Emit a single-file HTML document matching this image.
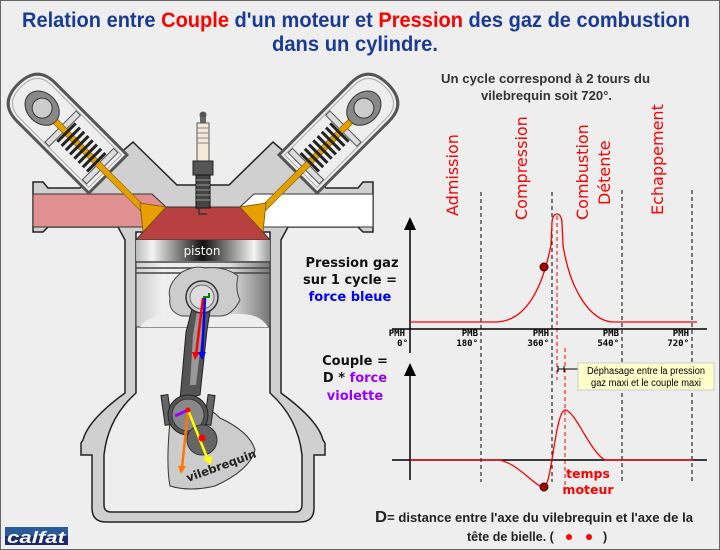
<!DOCTYPE html>
<html><head><meta charset="utf-8"><style>
html,body{margin:0;padding:0;background:#eee}
svg{display:block}
</style></head><body>
<svg width="720" height="550" viewBox="0 0 720 550" xmlns="http://www.w3.org/2000/svg">
<defs>
<linearGradient id="pt" x1="0" x2="1" y1="0" y2="0">
<stop offset="0" stop-color="#bbb"/><stop offset="0.12" stop-color="#f4f4f4"/><stop offset="0.5" stop-color="#111"/><stop offset="0.88" stop-color="#f4f4f4"/><stop offset="1" stop-color="#999"/></linearGradient>
<linearGradient id="pb" x1="0" x2="1" y1="0" y2="0">
<stop offset="0" stop-color="#ccc"/><stop offset="0.2" stop-color="#f0f0f0"/><stop offset="0.7" stop-color="#ddd"/><stop offset="1" stop-color="#777"/></linearGradient>
<g id="valve">
 <g transform="translate(57,123) rotate(45)">
  <path d="M-30,-27 L72,-27 L72,27 L-30,27 Q-55,27 -55,0 Q-55,-27 -30,-27 Z" fill="#eee" stroke="#555" stroke-width="3"/>
  <path d="M-30,-23 L68,-23 L68,23 L-30,23 Q-51,23 -51,0 Q-51,-23 -30,-23 Z" fill="none" stroke="#aaa" stroke-width="1"/>
  <ellipse cx="-21" cy="0" rx="19" ry="15" fill="#888" stroke="#333"/>
  <circle cx="-21" cy="0" r="10" fill="#ccc" stroke="#333"/>
  <rect x="5" y="-22" width="6" height="44" fill="#ddd" stroke="#555"/>
  <rect x="58" y="-22" width="6" height="44" fill="#ddd" stroke="#555"/>
  <rect x="-2" y="-3" width="129" height="6" fill="#e0a000" stroke="#8a5a00" stroke-width="0.6"/>
  <g fill="#222">
   <rect x="12" y="-13" width="3" height="26"/><rect x="18" y="-13" width="3" height="26"/><rect x="24" y="-13" width="3" height="26"/><rect x="30" y="-13" width="3" height="26"/><rect x="36" y="-13" width="3" height="26"/><rect x="42" y="-13" width="3" height="26"/><rect x="48" y="-13" width="3" height="26"/><rect x="54" y="-13" width="3" height="26"/>
  </g>
 </g>
 <polygon points="140,203 166,207 143,232" fill="#e8a000" stroke="#7a5000" stroke-width="0.8"/>
</g>
</defs>
<rect x="0.5" y="0.5" width="719" height="549" fill="#eee" stroke="#666"/>

<g font-family="Liberation Sans, sans-serif" font-weight="bold" font-size="21" fill="#1a3a9a">
<text x="22" y="27" textLength="668" lengthAdjust="spacingAndGlyphs">Relation entre <tspan fill="#f00">Couple</tspan> d'un moteur et <tspan fill="#f00">Pression</tspan> des gaz de combustion</text>
<text x="272" y="51" textLength="166" lengthAdjust="spacingAndGlyphs">dans un cylindre.</text>
</g>
<g font-family="Liberation Sans, sans-serif" font-weight="bold" font-size="12.5" fill="#333">
<text x="441" y="83" textLength="209" lengthAdjust="spacingAndGlyphs">Un cycle correspond à 2 tours du</text>
<text x="481" y="100" textLength="131" lengthAdjust="spacingAndGlyphs">vilebrequin soit 720°.</text>
</g>

<path d="M33,182 L43,182 L48,188 L80,188 L133,142 L177,185 L229,185 L273,142 L326,188 L358,188 L363,182 L373,182 L373,232 L363,232 L358,227 L288,227 L281,240 L281,393 Q318,420 323,440 L325,443 L325,455 L314,455 L314,508 Q314,522 300,522 L106,522 Q92,522 92,508 L92,455 L81,455 L81,443 L83,440 Q88,420 125,393 L125,240 L118,227 L48,227 L43,232 L33,232 Z" fill="#d0d0d0" stroke="#222" stroke-width="1.5"/>
<path d="M136,232 L270,232 L270,393 Q298,418 302,455 L302,505 Q302,512 295,512 L111,512 Q104,512 104,505 L104,455 Q108,418 136,393 Z" fill="#eee" stroke="#222" stroke-width="1.5"/>
<polygon points="33,194 152,194 166,207 143,227 33,227" fill="#e09090" stroke="#333" stroke-width="1"/>
<polygon points="373,194 254,194 240,207 263,227 373,227" fill="#fff" stroke="#333" stroke-width="1"/>
<polygon points="165,207 241,207 270,240 136,240" fill="#b84040" stroke="#333"/>
<use href="#valve"/>
<use href="#valve" transform="translate(406,0) scale(-1,1)"/>
<g>
<circle cx="203" cy="115" r="3.5" fill="#555"/>
<rect x="200" y="117" width="6" height="6" fill="#666"/>
<rect x="197" y="123" width="12" height="38" fill="#f4e8d8" stroke="#555"/>
<g stroke="#888"><line x1="197" y1="128" x2="209" y2="128"/><line x1="197" y1="133" x2="209" y2="133"/><line x1="197" y1="138" x2="209" y2="138"/><line x1="197" y1="143" x2="209" y2="143"/></g>
<rect x="193" y="161" width="20" height="14" fill="#555" stroke="#222"/>
<rect x="196" y="175" width="14" height="33" fill="#444" stroke="#111"/>
<g stroke="#999"><line x1="196" y1="180" x2="210" y2="180"/><line x1="196" y1="185" x2="210" y2="185"/><line x1="196" y1="190" x2="210" y2="190"/><line x1="196" y1="195" x2="210" y2="195"/><line x1="196" y1="200" x2="210" y2="200"/></g>
<path d="M199,208 L199,214 L207,214" fill="none" stroke="#333" stroke-width="1.5"/>
</g>
<rect x="136" y="240" width="134" height="87" fill="url(#pb)" stroke="#333"/>
<rect x="136" y="240" width="134" height="21" fill="url(#pt)"/>
<g stroke="#444" stroke-width="1.5"><line x1="136" y1="262" x2="270" y2="262"/><line x1="136" y1="268" x2="270" y2="268"/><line x1="136" y1="273" x2="270" y2="273"/></g>
<path d="M140,327 Q150,313 175,314 L240,314 Q260,314 268,327 Z" fill="#eee"/>
<path d="M182,272 Q195,265 205,268 Q225,266 238,276 Q235,290 240,300 Q232,316 220,316 L182,316 Q168,312 170,298 Q166,285 182,272 Z" fill="#ccc" stroke="#444"/>
<text x="202" y="255" font-family="DejaVu Sans, sans-serif" font-size="12" fill="#fff" text-anchor="middle">piston</text>
<path d="M172,403 Q200,398 220,418 Q250,432 255,450 Q250,470 215,486 Q190,492 170,486 Q165,460 172,403 Z" fill="#ccc" stroke="#333"/>
<polygon points="193,305 211,305 207,330 200,395 180,400 186,332" fill="#555" stroke="#222"/>
<polygon points="197,312 206,312 202,335 196,385 190,385 193,335" fill="#999"/>
<circle cx="202" cy="297" r="16" fill="#ccc" stroke="#333" stroke-width="1.5"/>
<circle cx="202" cy="297" r="12" fill="#ddd" stroke="#666"/>
<rect x="163" y="395" width="7" height="30" fill="#666" stroke="#222" transform="rotate(-8 166 410)"/>
<rect x="206" y="395" width="7" height="30" fill="#666" stroke="#222" transform="rotate(8 210 410)"/>
<circle cx="188" cy="415" r="20" fill="#555" stroke="#222"/>
<circle cx="188" cy="415" r="16" fill="#888" stroke="#333"/>
<circle cx="202" cy="440" r="15" fill="#666" stroke="#333"/>
<g stroke-width="2.5" fill="none">
<line x1="203" y1="298" x2="196" y2="355" stroke="#f00"/>
<line x1="205" y1="298" x2="202" y2="355" stroke="#00f"/>
<line x1="188" y1="410" x2="182" y2="468" stroke="#f70"/>
<line x1="188" y1="410" x2="208" y2="460" stroke="#ff0"/>
<line x1="188" y1="410" x2="175" y2="416" stroke="#90f" stroke-width="3"/>
<polyline points="203,297 209,297 209,293" stroke="#080" stroke-width="2"/>
</g>
<polygon points="192,352 200,352 195,360" fill="#f00"/>
<polygon points="198,352 206,352 202,360" fill="#00f"/>
<polygon points="178,466 186,466 181,474" fill="#f70"/>
<polygon points="203,459 212,456 211,465" fill="#ff0"/>
<circle cx="188" cy="410" r="2.5" fill="#f00"/>
<circle cx="202" cy="438" r="3.5" fill="#f00"/>
<text x="0" y="0" font-family="DejaVu Sans, sans-serif" font-weight="bold" font-size="11.5" fill="#222" transform="translate(188,482) rotate(-20)">vilebrequin</text>
<rect x="5" y="527" width="63" height="18" fill="#1a2a70"/>
<rect x="5" y="527" width="63" height="9" fill="#2a5a9a"/>
<text x="36" y="543" font-family="Liberation Sans, sans-serif" font-weight="bold" font-style="italic" font-size="17" fill="#fff" text-anchor="middle" textLength="58" lengthAdjust="spacingAndGlyphs">calfat</text>

<g font-family="DejaVu Sans, sans-serif" font-weight="bold" font-size="13" text-anchor="middle">
<text x="352" y="267" fill="#111">Pression gaz</text>
<text x="350" y="284" fill="#111">sur 1 cycle =</text>
<text x="350" y="301" fill="#00f">force bleue</text>
<text x="355" y="365" fill="#111">Couple =</text>
<text x="355" y="382" fill="#111">D * <tspan fill="#90f">force</tspan></text>
<text x="355" y="400" fill="#90f">violette</text>
</g>

<g font-family="DejaVu Sans, sans-serif" font-size="16" fill="#f00">
<text transform="translate(458,216) rotate(-90)">Admission</text>
<text transform="translate(527,220) rotate(-90)">Compression</text>
<text transform="translate(588,220) rotate(-90)">Combustion</text>
<text transform="translate(610,205) rotate(-90)">Détente</text>
<text transform="translate(663,215) rotate(-90)">Echappement</text>
</g>

<g stroke="#000" stroke-width="1" stroke-dasharray="4,3">
<line x1="481" y1="192" x2="481" y2="482"/>
<line x1="552" y1="192" x2="552" y2="482"/>
<line x1="622" y1="190" x2="622" y2="482"/>
<line x1="692" y1="190" x2="692" y2="482"/>
</g>
<g stroke="#f00" stroke-width="1" stroke-dasharray="4,3">
<line x1="557" y1="216" x2="557" y2="380"/>
<line x1="565" y1="348" x2="565" y2="490"/>
</g>
<g stroke="#000" stroke-width="1.5">
<line x1="392" y1="329" x2="707" y2="329"/>
<line x1="410" y1="226" x2="410" y2="353"/>
<line x1="392" y1="460" x2="707" y2="460"/>
<line x1="410" y1="372" x2="410" y2="480"/>
</g>
<polygon points="410,217 404,230 416,230" fill="#000"/>
<polygon points="410,363 404,376 416,376" fill="#000"/>
<g fill="none" stroke="#f00" stroke-width="1.3">
<path d="M410,322 L495,322 C520,322 540,300 551,245 L552,222 Q553,214 557,214 Q561,214 562,222 L563,245 C570,290 590,320 612,322 L697,322"/>
<path d="M410,460 L500,460 C520,465 535,487 544,487 C552,485 555,412 565,410 C575,410 590,452 605,460 L693,460"/>
</g>
<circle cx="544" cy="267" r="4" fill="#a00" stroke="#300"/>
<circle cx="544" cy="487" r="4" fill="#a00" stroke="#300"/>
<g font-family="DejaVu Sans Mono, monospace" font-size="9" font-weight="bold" fill="#000" text-anchor="end">
<text x="405" y="336">PMH</text><text x="408" y="346">0°</text>
<text x="478" y="336">PMB</text><text x="478" y="346">180°</text>
<text x="549" y="336">PMH</text><text x="549" y="346">360°</text>
<text x="619" y="336">PMB</text><text x="619" y="346">540°</text>
<text x="689" y="336">PMH</text><text x="689" y="346">720°</text>
</g>
<line x1="558" y1="369" x2="578" y2="369" stroke="#000"/>
<line x1="558" y1="366" x2="558" y2="372" stroke="#000"/>
<line x1="564" y1="366" x2="564" y2="372" stroke="#000"/>
<rect x="578" y="363" width="136" height="27" fill="#ffffcc" stroke="#ccc"/>
<g font-family="Liberation Sans, sans-serif" font-size="10" fill="#000" text-anchor="middle">
<text x="646" y="374" textLength="118" lengthAdjust="spacingAndGlyphs">Déphasage entre la pression</text>
<text x="646" y="386" textLength="110" lengthAdjust="spacingAndGlyphs">gaz maxi et le couple maxi</text>
</g>
<g font-family="DejaVu Sans, sans-serif" font-weight="bold" font-size="12.5" fill="#f00" text-anchor="middle">
<text x="588" y="478">temps</text>
<text x="588" y="494">moteur</text>
</g>
<g font-family="Liberation Sans, sans-serif" font-weight="bold" font-size="12.5" fill="#222">
<text x="375" y="522" textLength="318" lengthAdjust="spacingAndGlyphs"><tspan font-size="16">D</tspan>= distance entre l'axe du vilebrequin et l'axe de la</text>
<text x="467" y="541">tête de bielle. (</text>
<text x="603" y="541">)</text>
</g>
<circle cx="569" cy="537" r="3" fill="#f00"/>
<circle cx="589" cy="537" r="3" fill="#f00"/>
</svg>
</body></html>
